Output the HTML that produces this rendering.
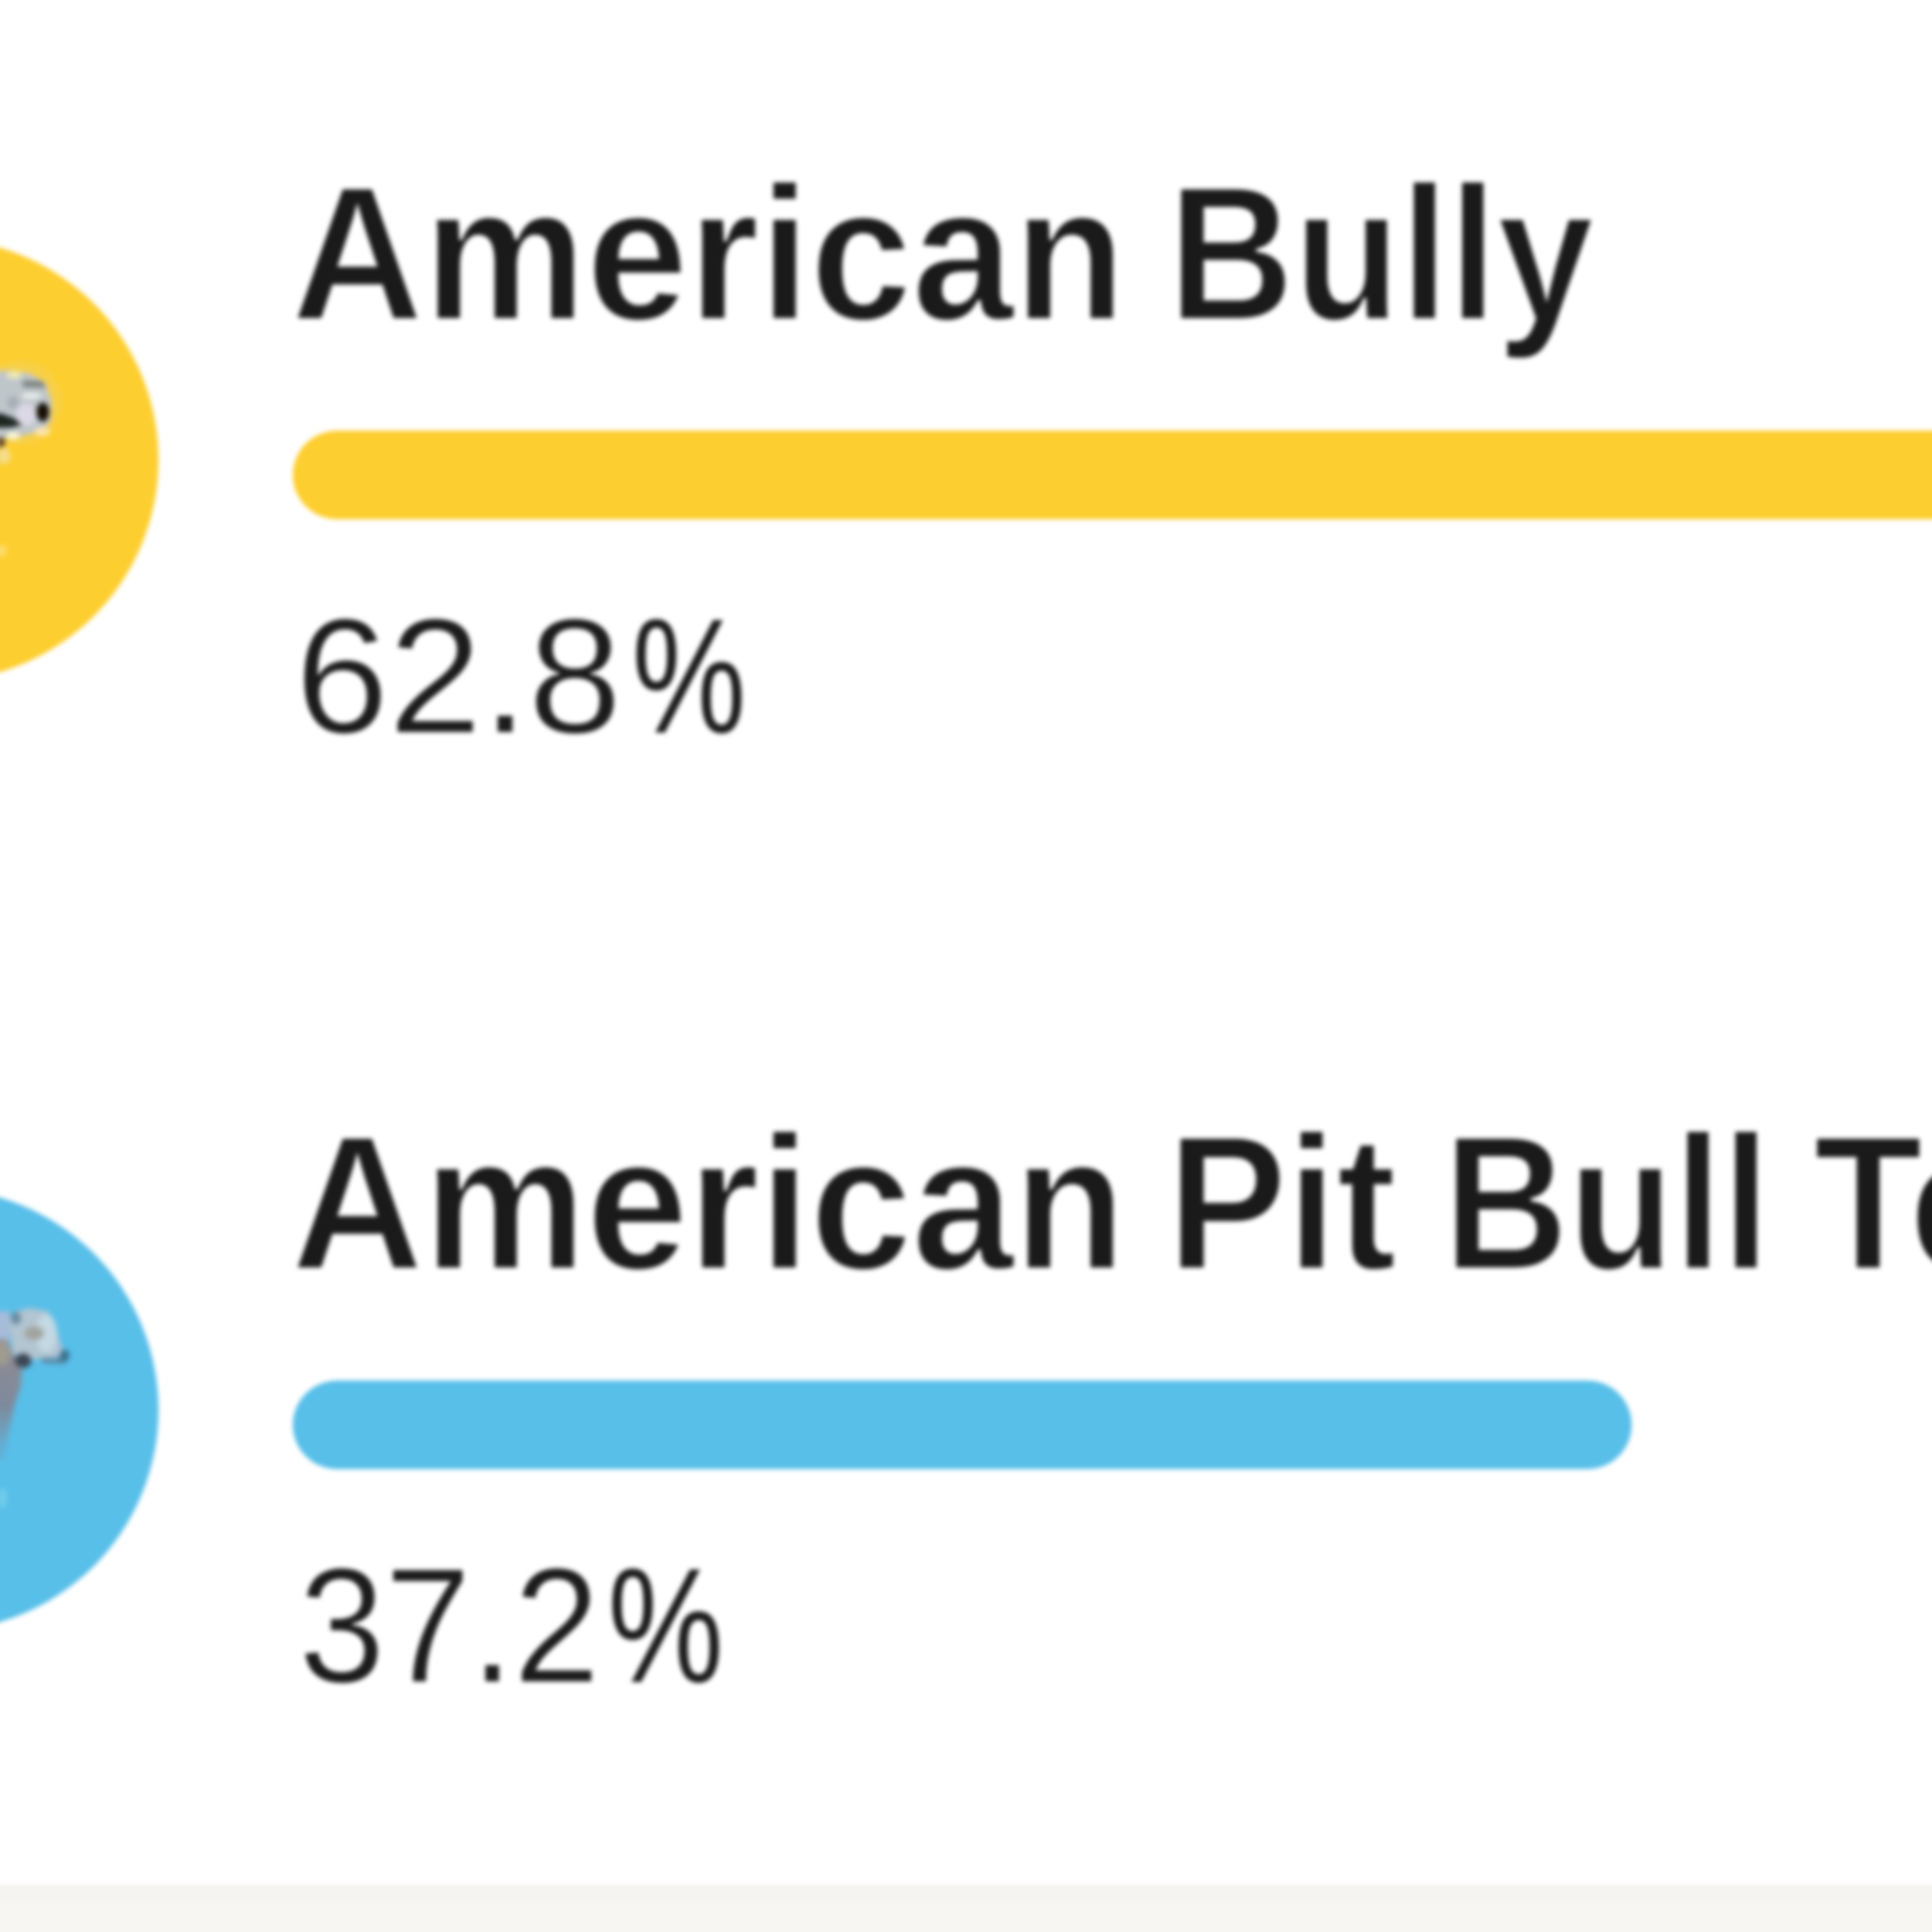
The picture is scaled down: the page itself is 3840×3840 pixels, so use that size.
<!DOCTYPE html>
<html lang="en">
<head>
<meta charset="utf-8">
<title>Breed results</title>
<style>
html,body{margin:0;padding:0;width:3840px;height:3840px;overflow:hidden}
body{background:#fff;position:relative;font-family:"Liberation Sans",sans-serif;color:#1b1b1b}
.stage{position:absolute;left:0;top:0;width:3840px;height:3840px;filter:blur(5px)}
.results,.result,.name,.pct{margin:0;padding:0;list-style:none;font-size:inherit;font-weight:inherit}
.w{position:absolute;white-space:nowrap;transform-origin:0 0;display:block}
.b{font-weight:700;color:#1a1a1a;-webkit-text-stroke:6px #fff}
.r{font-weight:400;color:#1c1c1c;-webkit-text-stroke:2.5px #fff}
.pc{-webkit-text-stroke:0}
.avatar{position:absolute;left:-565px;width:880px;height:880px;border-radius:50%}
.bar{position:absolute;left:582px;height:176px;border-radius:88px}
.yellow{background:#fdce2f}
.blue{background:#58bfe9}
.dog{position:absolute;left:-60px;width:320px;height:520px;overflow:visible}
.foot{position:absolute;left:-100px;top:3745px;width:4040px;height:200px;background:#f7f6f2;border-top:34px solid #f5f4f1;box-sizing:border-box}
</style>
</head>
<body>
<main class="stage">
<ul class="results">
<li class="result">
<div class="avatar yellow" style="top:474px"></div>
<svg class="dog" style="top:660px" viewBox="-60 660 320 520">
<defs><filter id="f1" x="-30%" y="-30%" width="160%" height="160%"><feGaussianBlur stdDeviation="2.5"/></filter></defs>
<g filter="url(#f1)">
<ellipse cx="40" cy="800" rx="84" ry="84" fill="#f3d257" opacity=".55"/>
<path d="M-60 742 L18 736 L58 742 L90 760 L103 798 L100 838 L82 856 L40 868 L-60 874 Z" fill="#bfc6ca"/>
<ellipse cx="28" cy="745" rx="15" ry="8" fill="#ece8b6"/>
<path d="M44 756 L84 757 L92 771 L46 770 Z" fill="#7d8480"/>
<ellipse cx="62" cy="787" rx="20" ry="6" fill="#e8ecea"/>
<ellipse cx="26" cy="800" rx="12" ry="12" fill="#a9aeb6"/>
<ellipse cx="52" cy="824" rx="20" ry="22" fill="#dcd8e6"/>
<path d="M-60 818 L4 821 L30 831 L45 845 L22 851 L-60 852 Z" fill="#1b2522"/>
<ellipse cx="85" cy="819" rx="14" ry="20" fill="#160a03"/>
<ellipse cx="84" cy="858" rx="16" ry="8" fill="#fde6b0"/>
<ellipse cx="26" cy="866" rx="13" ry="8" fill="#f8f5d4"/>
<ellipse cx="2" cy="879" rx="9" ry="11" fill="#634426"/>
<ellipse cx="8" cy="906" rx="13" ry="17" fill="#f5dd8a"/>
<ellipse cx="2" cy="1095" rx="12" ry="12" fill="#fddb6a"/>
</g></svg>
<h3 class="name"><span class="w b" style="left:578.6px;top:314.3px;font-size:380px;line-height:380px;transform:scaleX(0.9574)">American</span> <span class="w b" style="left:2321.5px;top:314.3px;font-size:380px;line-height:380px;transform:scaleX(0.9105)">Bully</span></h3>
<div class="bar yellow" style="top:856px;width:3400px"></div>
<p class="pct"><span class="w r" style="left:586.5px;top:1180.9px;font-size:325px;line-height:325px;transform:scaleX(1.0250)">62.8</span><span class="w r pc" style="left:1255.6px;top:1180.9px;font-size:325px;line-height:325px;transform:scaleX(0.7849)">%</span></p>
</li>
<li class="result">
<div class="avatar blue" style="top:2362px"></div>
<svg class="dog" style="top:2540px" viewBox="-60 2540 320 520">
<defs><filter id="f2" x="-30%" y="-30%" width="160%" height="160%"><feGaussianBlur stdDeviation="3"/></filter>
<linearGradient id="nk" x1="0" y1="2690" x2="0" y2="2880" gradientUnits="userSpaceOnUse"><stop offset="0" stop-color="#8d8b93"/><stop offset=".55" stop-color="#7e8a9c"/><stop offset="1" stop-color="#62b0d6"/></linearGradient></defs>
<g filter="url(#f2)">
<rect x="-60" y="2606" width="80" height="60" fill="#a6bcd8"/>
<path d="M-60 2660 L14 2662 L30 2700 L44 2722 L40 2760 L29 2792 L19 2840 L8 2900 L-60 2900 Z" fill="url(#nk)"/>
<ellipse cx="4" cy="2690" rx="15" ry="24" fill="#a19b8f"/>
<path d="M19 2626 L30 2606 L60 2600 L95 2606 L112 2640 L122 2680 L110 2698 L60 2702 L25 2690 Z" fill="#b3c5d1"/>
<ellipse cx="106" cy="2682" rx="18" ry="15" fill="#b4c5d5"/>
<ellipse cx="92" cy="2650" rx="21" ry="38" fill="#c4d9e4"/>
<ellipse cx="68" cy="2650" rx="20" ry="14" fill="#a2a49e"/>
<ellipse cx="32" cy="2620" rx="10" ry="13" fill="#67899f"/>
<path d="M82 2698 L128 2700 L130 2711 L84 2709 Z" fill="#5686a3"/>
<ellipse cx="128" cy="2694" rx="10" ry="12" fill="#386d8a"/>
<ellipse cx="46" cy="2704" rx="17" ry="15" fill="#3b4454"/>
<ellipse cx="4" cy="2978" rx="10" ry="20" fill="#6fcdea"/>
</g></svg>
<h3 class="name"><span class="w b" style="left:578.6px;top:2201.3px;font-size:380px;line-height:380px;transform:scaleX(0.9574)">American</span> <span class="w b" style="left:2319.7px;top:2201.3px;font-size:380px;line-height:380px;transform:scaleX(0.9378)">Pit</span> <span class="w b" style="left:2868.7px;top:2201.3px;font-size:380px;line-height:380px;transform:scaleX(0.9045)">Bull</span> <span class="w b" style="left:3604.5px;top:2201.3px;font-size:380px;line-height:380px;transform:scaleX(0.9312)">Terrier</span></h3>
<div class="bar blue" style="top:2744px;width:2661px"></div>
<p class="pct"><span class="w r" style="left:593.8px;top:3068.4px;font-size:325px;line-height:325px;transform:scaleX(0.9451)">37.2</span><span class="w r pc" style="left:1208.4px;top:3068.4px;font-size:325px;line-height:325px;transform:scaleX(0.7962)">%</span></p>
</li>
</ul>
<div class="foot"></div>
</main>
</body>
</html>
